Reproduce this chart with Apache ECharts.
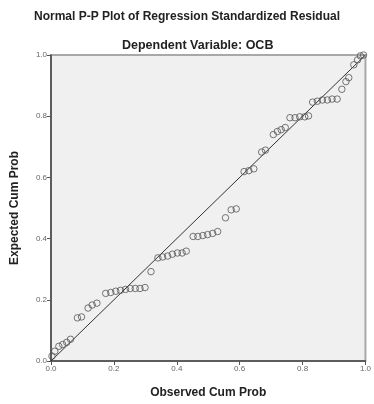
<!DOCTYPE html>
<html><head><meta charset="utf-8">
<script src="https://cdn.jsdelivr.net/npm/echarts@6/dist/echarts.min.js"></script>
<style>html,body{margin:0;padding:0;background:#fff}#c{width:374px;height:404px}</style>
</head><body><div id="c"></div>
<script>
var observedCumProb = [0.003,0.012,0.025,0.037,0.050,0.062,0.084,0.097,0.118,0.131,0.146,0.174,0.190,0.206,0.221,0.237,0.252,0.268,0.283,0.299,0.318,0.340,0.355,0.371,0.386,0.402,0.417,0.430,0.452,0.467,0.483,0.498,0.514,0.530,0.555,0.573,0.589,0.614,0.629,0.645,0.670,0.682,0.707,0.720,0.732,0.745,0.760,0.776,0.791,0.807,0.819,0.832,0.847,0.863,0.879,0.894,0.910,0.925,0.938,0.947,0.963,0.975,0.984,0.994];
var expectedCumProb = [0.016,0.032,0.048,0.054,0.061,0.071,0.141,0.144,0.173,0.183,0.189,0.221,0.224,0.228,0.231,0.234,0.237,0.237,0.237,0.240,0.292,0.337,0.340,0.343,0.349,0.353,0.353,0.359,0.407,0.407,0.410,0.413,0.417,0.423,0.468,0.494,0.497,0.619,0.622,0.628,0.683,0.689,0.740,0.750,0.756,0.763,0.795,0.795,0.798,0.798,0.801,0.846,0.849,0.853,0.853,0.856,0.856,0.888,0.913,0.926,0.968,0.984,0.997,1.0];
var refLine = [[0,0],[1,1]];
var titleText = 'Normal P-P Plot of Regression Standardized Residual';
var subtitleText = 'Dependent Variable: OCB';
var xName = 'Observed Cum Prob';
var yName = 'Expected Cum Prob';

var pts = observedCumProb.map(function(x,i){return [x, expectedCumProb[i]];});
var chart = echarts.init(document.getElementById('c'), null, {renderer:'canvas'});
var font = 'Arial, "Liberation Sans", sans-serif';
chart.setOption({
  animation:false,
  backgroundColor:'#fff',
  title:[
    {text:titleText, left:'center', top:6, textStyle:{fontFamily:font, fontSize:12, fontWeight:'bold', color:'#222'}},
    {text:subtitleText, left:117, top:34, textStyle:{fontFamily:font, fontSize:12.5, fontWeight:'bold', color:'#222'}}
  ],
  grid:{left:51, right:2, top:55, bottom:37, show:true, backgroundColor:'#f0f0f0', borderColor:'#a8a8a8', borderWidth:2},
  xAxis:{type:'value', min:0, max:1, interval:0.2,
    name:xName, nameLocation:'middle', nameGap:26,
    nameTextStyle:{fontFamily:font, fontSize:12, fontWeight:'bold', color:'#222'},
    axisLine:{show:true, lineStyle:{color:'#444', width:1.5}},
    axisTick:{show:true, length:4, lineStyle:{color:'#555'}},
    axisLabel:{fontFamily:font, fontSize:8, color:'#666', margin:4, formatter:function(v){return v.toFixed(1);}},
    splitLine:{show:false}},
  yAxis:{type:'value', min:0, max:1, interval:0.2,
    name:yName, nameLocation:'middle', nameGap:30, nameRotate:90,
    nameTextStyle:{fontFamily:font, fontSize:12, fontWeight:'bold', color:'#222'},
    axisLine:{show:true, lineStyle:{color:'#444', width:1.5}},
    axisTick:{show:true, length:4, lineStyle:{color:'#555'}},
    axisLabel:{fontFamily:font, fontSize:8, color:'#666', margin:4, formatter:function(v){return v.toFixed(1);}},
    splitLine:{show:false}},
  series:[
    {type:'line', data:refLine, symbol:'none', lineStyle:{color:'#333', width:1}, z:2},
    {type:'scatter', data:pts, symbol:'circle', symbolSize:6.5,
     itemStyle:{color:'rgba(0,0,0,0)', borderColor:'#555', borderWidth:1}, z:3}
  ]
});
</script></body></html>
